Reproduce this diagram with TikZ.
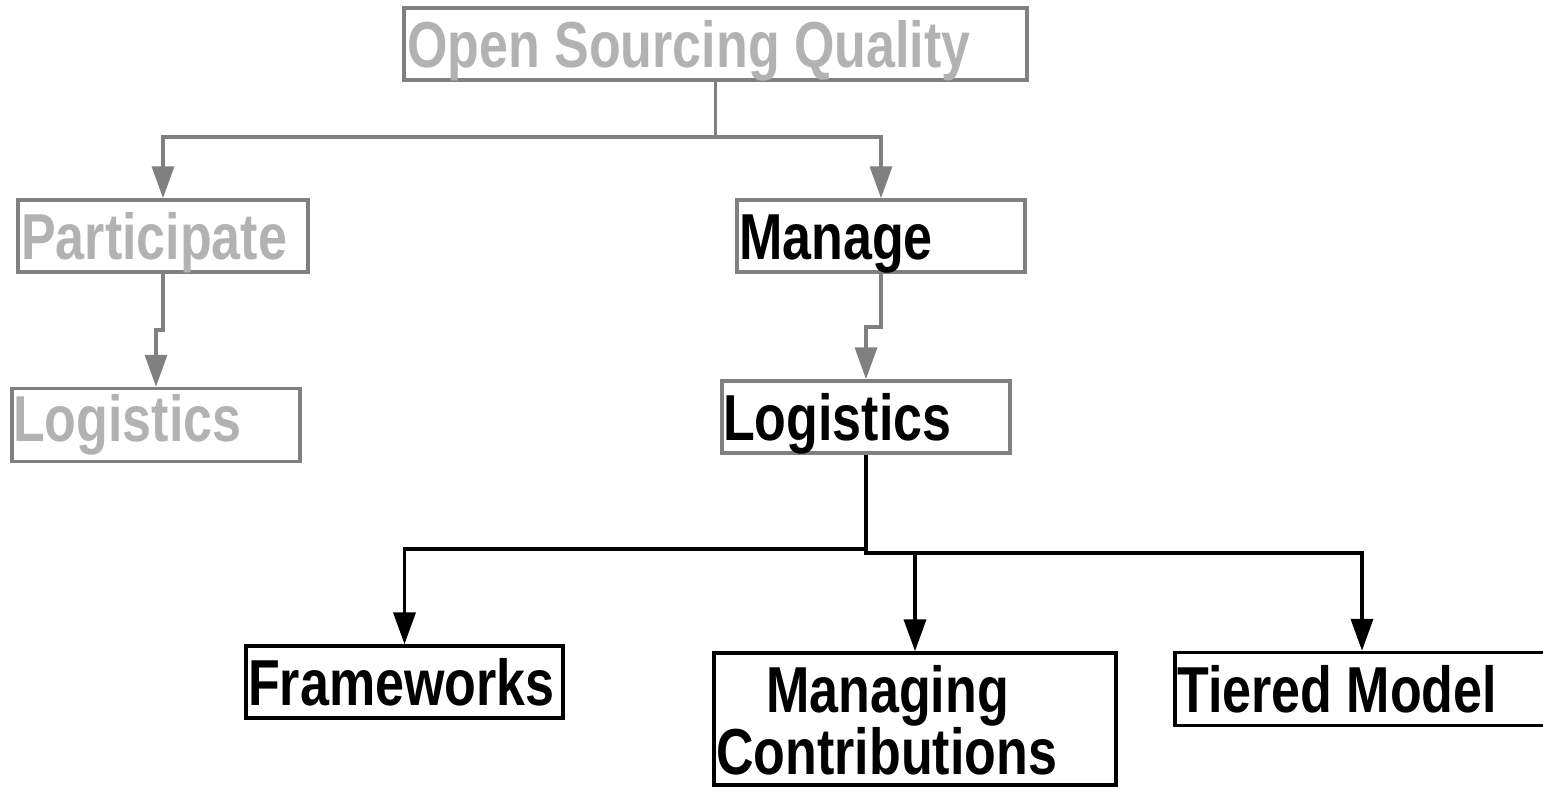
\documentclass[tikz,border=0pt]{standalone}
\usepackage{fontspec}
\setmainfont{Liberation Sans}[FakeStretch=0.8]
\usetikzlibrary{arrows.meta}
\definecolor{lineg}{HTML}{808080}
\definecolor{textg}{HTML}{B2B2B2}
\begin{document}
\begin{tikzpicture}[x=1pt,y=-1pt,
  box/.style={draw, rectangle, inner sep=0pt, line width=3.5pt},
  gbox/.style={box, draw=lineg},
  kbox/.style={box, draw=black},
  lbl/.style={anchor=base west, inner sep=0pt, font=\fontsize{65}{65}\selectfont\bfseries},
  glbl/.style={lbl, text=textg},
  klbl/.style={lbl, text=black},
  glink/.style={draw=lineg, line width=3.5pt, -{Triangle[width=22pt,length=32pt]}},
  klink/.style={draw=black, line width=3.8pt, -{Triangle[width=22pt,length=32pt]}}]
\useasboundingbox (0,0) rectangle (1543,787);
% boxes
\node[gbox, minimum width=623pt, minimum height=72pt] (osq) at (715.5,44) {};
\node[gbox, minimum width=290pt, minimum height=72pt] (part) at (163,236) {};
\node[gbox, minimum width=288pt, minimum height=72pt] (manage) at (881,236) {};
\node[gbox, minimum width=288pt, minimum height=73pt] (logl) at (156,425) {};
\node[gbox, minimum width=288pt, minimum height=72pt] (logr) at (866,417) {};
\node[kbox, minimum width=317pt, minimum height=72pt] (frame) at (404.5,682) {};
\node[kbox, minimum width=402pt, minimum height=132pt] (mc) at (915,719) {};
\node[kbox, minimum width=374pt, minimum height=73pt] (tier) at (1362,689) {};
% junctions
\coordinate (j1) at (715.5,137);
\coordinate (s1) at (163,330);
\coordinate (s2) at (881,327);
\coordinate (j2) at (866,549);
\coordinate (j3) at (866,553);
% connectors
\draw[glink] (osq.south) -- (j1) -| (part.north);
\draw[glink] (j1) -| (manage.north);
\draw[glink] (part.south) -- (s1) -| (logl.north);
\draw[glink] (manage.south) -- (s2) -| (logr.north);
\draw[klink] (logr.south) -- (j2) -| (frame.north);
\draw[klink] (j2) -- (j3) -| (mc.north);
\draw[klink] (j3) -| (tier.north);
% labels
\node[glbl] (osqT) at (407,67) {Open Sourcing Quality};
\node[glbl] (partT) at (21,259) {Participate};
\node[glbl] (loglT) at (13,441) {Logistics};
\node[klbl] (manageT) at (739,259) {Manage};
\node[klbl] (logrT) at (723,440) {Logistics};
\node[klbl] (frameT) at (248,705) {Frameworks};
\node[klbl] (mcT1) at (766,712) {Managing};
\node[klbl] (mcT2) at (716,774) {Contributions};
\node[klbl] (tierT) at (1177,712) {Tiered Model};
\end{tikzpicture}
\end{document}
